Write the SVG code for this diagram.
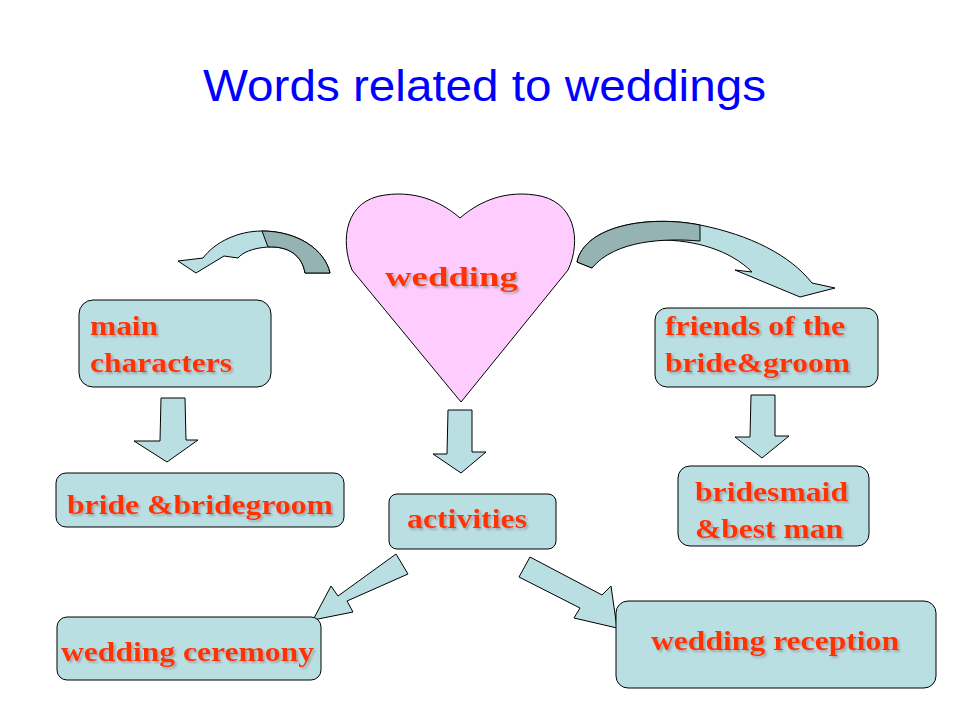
<svg xmlns="http://www.w3.org/2000/svg" width="960" height="720" viewBox="0 0 960 720">
<defs>
<style>
.box{fill:#b9dfe3;stroke:#000;stroke-width:1}
.arr{fill:#b9dfe3;stroke:#000;stroke-width:1}
.dark{fill:#95b3b3;stroke:#000;stroke-width:1}
.t{font-family:"Liberation Serif",serif;font-weight:bold;font-size:27px;fill:#ff3300}
</style>
<filter id="sh" x="-5%" y="-20%" width="110%" height="140%"><feDropShadow dx="2" dy="2" stdDeviation="1" flood-color="#999" flood-opacity="0.8"/></filter>
</defs>
<rect width="960" height="720" fill="#fff"/>
<text x="203" y="101" textLength="563" lengthAdjust="spacingAndGlyphs" font-family="Liberation Sans,sans-serif" font-size="45" fill="#0000ff">Words related to weddings</text>
<g id="heart">
<path d="M461,402 L352,270 C340,240 345,200 385,195 C420,190 445,205 460,218 C475,205 500,190 535,195 C575,200 582,240 568,270 Z" fill="#ffccff" stroke="#000"/>
<text class="t" x="385" y="286" textLength="133" lengthAdjust="spacingAndGlyphs" font-size="32" filter="url(#sh)">wedding</text>
</g>
<g id="connectors">
<path class="arr" d="M330,273 L305,273 C302,255 288,246 268,247 C252,248 242,253 238,258 L224,256 L196,273 L178,261 L203,258 C215,242 238,231 262,231 C298,231 325,250 330,273 Z"/>
<path class="dark" d="M330,273 L305,273 C302,255 288,246 268,247 L262,231 C298,231 325,250 330,273 Z"/>
<path class="arr" d="M577,262 C585,225 650,215 700,225 C750,235 790,255 812,283 L835,288 L800,297 L735,270 L752,272 C730,250 695,240 660,240 C625,240 600,250 592,268 Z"/>
<path class="dark" d="M577,262 C585,225 650,215 700,225 L700,241 C665,238 615,240 592,268 Z"/>
<path class="arr" d="M161,398 L185,398 L186,440 L198,440 L167,462 L134,441 L147,441 L160,441 Z"/>
<path class="arr" d="M448,410 L472,410 L472,452 L486,452 L461,473 L433,454 L447,454 Z"/>
<path class="arr" d="M751,395 L775,395 L775,436 L789,436 L762,458 L735,437 L750,437 Z"/>
<path class="arr" d="M396,554 L408,574 L347,601 L353,612 L313,620 L331,586 L338,596 Z"/>
<path class="arr" d="M530,557 L519,577 L580,608 L574,618 L617,628 L611,586 L602,595 Z"/>
</g>
<g id="main"><rect class="box" x="79" y="300" width="192" height="87" rx="14"/><text class="t" x="90" y="335" textLength="68" lengthAdjust="spacingAndGlyphs" filter="url(#sh)">main</text><text class="t" x="90" y="372" textLength="142" lengthAdjust="spacingAndGlyphs" filter="url(#sh)">characters</text></g>
<g id="friends"><rect class="box" x="655" y="308" width="223" height="79" rx="12"/><text class="t" x="665" y="335" textLength="180" lengthAdjust="spacingAndGlyphs" filter="url(#sh)">friends of the</text><text class="t" x="665" y="372" textLength="185" lengthAdjust="spacingAndGlyphs" filter="url(#sh)">bride&amp;groom</text></g>
<g id="bride"><rect class="box" x="56" y="473" width="288" height="54" rx="10"/><text class="t" x="67" y="514" textLength="266" lengthAdjust="spacingAndGlyphs" filter="url(#sh)">bride &amp;bridegroom</text></g>
<g id="bridesmaid"><rect class="box" x="678" y="466" width="191" height="80" rx="12"/><text class="t" x="695" y="501" textLength="153" lengthAdjust="spacingAndGlyphs" filter="url(#sh)">bridesmaid</text><text class="t" x="695" y="538" textLength="148" lengthAdjust="spacingAndGlyphs" filter="url(#sh)">&amp;best man</text></g>
<g id="activities"><rect class="box" x="389" y="494" width="167" height="55" rx="8"/><text class="t" x="407" y="528" textLength="120" lengthAdjust="spacingAndGlyphs" filter="url(#sh)">activities</text></g>
<g id="ceremony"><rect class="box" x="57" y="617" width="264" height="63" rx="10"/><text class="t" x="61" y="661" textLength="253" lengthAdjust="spacingAndGlyphs" filter="url(#sh)">wedding ceremony</text></g>
<g id="reception"><rect class="box" x="616" y="601" width="320" height="87" rx="12"/><text class="t" x="651" y="650" textLength="248" lengthAdjust="spacingAndGlyphs" filter="url(#sh)">wedding reception</text></g>
</svg>
